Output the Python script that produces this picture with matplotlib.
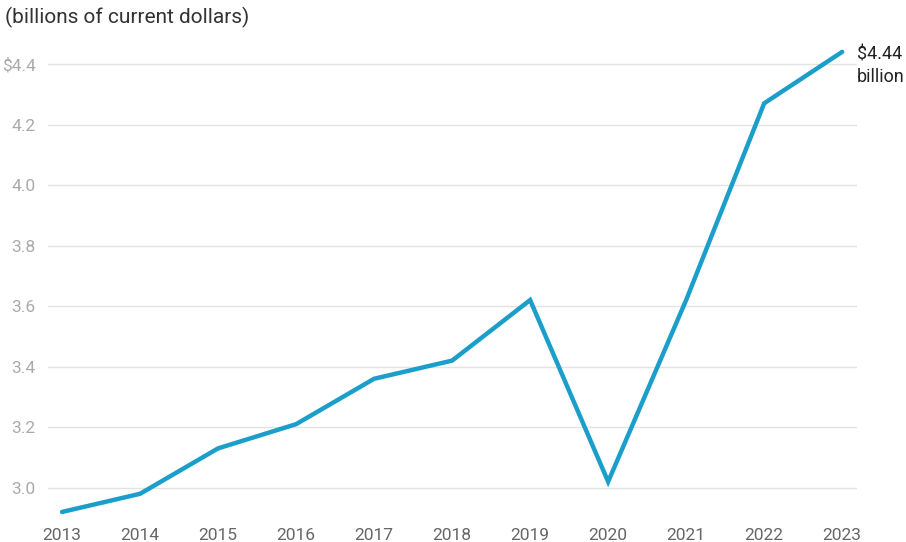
import matplotlib.pyplot as plt
from matplotlib.ticker import FixedLocator

# data (billions of current dollars)
years = [2013, 2014, 2015, 2016, 2017, 2018, 2019, 2020, 2021, 2022, 2023]
values = [2.92, 2.98, 3.13, 3.21, 3.36, 3.42, 3.62, 3.02, 3.62, 4.27, 4.44]
y_ticks = [3.0, 3.2, 3.4, 3.6, 3.8, 4.0, 4.2, 4.4]
y_tick_labels = ["3.0", "3.2", "3.4", "3.6", "3.8", "4.0", "4.2", "$4.4"]

plt.rcParams['font.family'] = ['Roboto', 'DejaVu Sans']

fig = plt.figure(figsize=(9.06, 5.42), dpi=100)
ax = fig.add_axes([48 / 906, 1 - 518 / 542, (857 - 48) / 906, (518 - 33.7) / 542])

ax.plot(years, values, color="#1b9fca", linewidth=3.2, solid_capstyle="round",
        solid_joinstyle="miter", zorder=3)

ax.set_xlim(2012.82, 2023.19)
ax.set_ylim(2.9, 4.5)

ax.set_xticks(years)
ax.set_xticklabels([str(y) for y in years])
ax.yaxis.set_major_locator(FixedLocator(y_ticks))
ax.set_yticklabels(y_tick_labels)

ax.tick_params(axis="x", length=0, pad=7, labelsize=12.5, labelcolor="#666666")
ax.tick_params(axis="y", length=0, pad=9, labelsize=12.5, labelcolor="#aaaaaa")

ax.grid(axis="y", color="#e3e3e3", linewidth=1)
ax.set_axisbelow(True)
for s in ax.spines.values():
    s.set_visible(False)

# end label
ax.annotate("$4.44\nbillion", xy=(years[-1], values[-1]), xytext=(15, 6),
            textcoords="offset pixels", ha="left", va="top", fontsize=13,
            color="#222222", linespacing=1.3, annotation_clip=False)

fig.text(5 / 906, 1 - 17 / 542, "(billions of current dollars)", fontsize=15,
         color="#333333", ha="left", va="center")

fig.savefig("out.png", dpi=100)
